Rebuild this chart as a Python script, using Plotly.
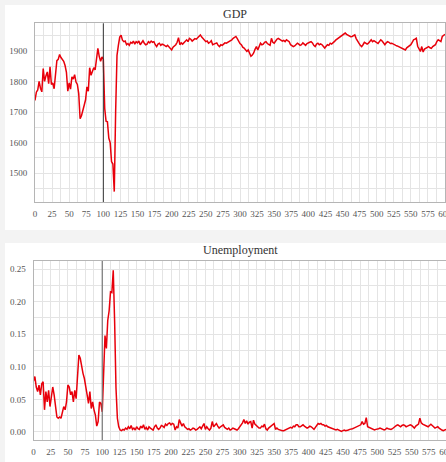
import plotly.graph_objects as go

# time steps (every 2 periods from 0 to 600)
gdp = [
    1738, 1765, 1772, 1800, 1778, 1766, 1842, 1800, 1818, 1831,   # 0-18
    1793, 1848, 1790, 1795, 1776, 1831, 1868, 1872, 1888, 1878,   # 20-38
    1872, 1866, 1852, 1830, 1768, 1795, 1775, 1815, 1808, 1822,   # 40-58
    1798, 1790, 1760, 1678, 1688, 1710, 1722, 1740, 1782, 1768,   # 60-78
    1845, 1820, 1835, 1845, 1838, 1875, 1908, 1882, 1866, 1880,   # 80-98
    1872, 1712, 1670, 1668, 1615, 1600, 1538, 1530, 1440, 1700,   # 100-118
    1885, 1918, 1945, 1951, 1935, 1930, 1932, 1920, 1924, 1918,   # 120-138
    1928, 1925, 1932, 1922, 1930, 1926, 1932, 1920, 1928, 1933,   # 140-158
    1925, 1920, 1922, 1930, 1926, 1932, 1928, 1930, 1920, 1914,   # 160-178
    1922, 1925, 1918, 1922, 1920, 1916, 1914, 1918, 1912, 1909,   # 180-198
    1903, 1912, 1915, 1920, 1928, 1943, 1920, 1926, 1922, 1928,   # 200-218
    1932, 1936, 1930, 1941, 1938, 1932, 1936, 1940, 1938, 1943,   # 220-238
    1948, 1952, 1945, 1940, 1938, 1930, 1932, 1925, 1928, 1933,   # 240-258
    1920, 1922, 1925, 1926, 1918, 1914, 1920, 1918, 1922, 1926,   # 260-278
    1925, 1928, 1930, 1932, 1936, 1941, 1944, 1947, 1940, 1930,   # 280-298
    1924, 1920, 1912, 1909, 1902, 1898, 1903, 1890, 1882, 1886,   # 300-318
    1893, 1905, 1914, 1903, 1918, 1925, 1920, 1922, 1928, 1930,   # 320-338
    1924, 1920, 1918, 1941, 1928, 1925, 1934, 1938, 1941, 1937,   # 340-358
    1936, 1932, 1934, 1930, 1936, 1934, 1930, 1920, 1918, 1914,   # 360-378
    1916, 1920, 1925, 1922, 1918, 1920, 1926, 1922, 1918, 1924,   # 380-398
    1925, 1928, 1930, 1926, 1918, 1914, 1922, 1925, 1920, 1923,   # 400-418
    1920, 1914, 1909, 1915, 1920, 1918, 1925, 1922, 1928, 1930,   # 420-438
    1935, 1938, 1941, 1945, 1947, 1950, 1955, 1958, 1954, 1952,   # 440-458
    1950, 1946, 1947, 1950, 1952, 1940, 1930, 1925, 1918, 1914,   # 460-478
    1920, 1928, 1925, 1922, 1925, 1932, 1936, 1930, 1933, 1930,   # 480-498
    1926, 1924, 1930, 1936, 1932, 1925, 1920, 1926, 1930, 1928,   # 500-518
    1924, 1925, 1922, 1920, 1918, 1916, 1914, 1912, 1910, 1909,   # 520-538
    1906, 1903, 1910, 1914, 1916, 1920, 1928, 1936, 1938, 1941,   # 540-558
    1915, 1905, 1898, 1914, 1896, 1906, 1909, 1912, 1914, 1910,   # 560-578
    1908, 1914, 1918, 1920, 1930, 1936, 1933, 1930, 1947, 1950,   # 580-598
    1954,                                                           # 600
]

unemployment = [
    0.078, 0.085, 0.069, 0.062, 0.072, 0.057, 0.074, 0.077, 0.034, 0.062,   # 0-18
    0.046, 0.064, 0.039, 0.054, 0.069, 0.057, 0.036, 0.023, 0.021, 0.023,   # 20-38
    0.021, 0.031, 0.039, 0.034, 0.046, 0.072, 0.069, 0.057, 0.062, 0.046,   # 40-58
    0.064, 0.051, 0.079, 0.118, 0.113, 0.100, 0.090, 0.082, 0.072, 0.057,   # 60-78
    0.044, 0.062, 0.036, 0.046, 0.034, 0.026, 0.009, 0.016, 0.046, 0.044,   # 80-98
    0.031, 0.110, 0.148, 0.128, 0.171, 0.186, 0.215, 0.214, 0.248, 0.169,   # 100-118
    0.067, 0.021, 0.008, 0.003, 0.002, 0.004, 0.003, 0.006, 0.004, 0.008,   # 120-138
    0.005, 0.010, 0.004, 0.006, 0.003, 0.008, 0.005, 0.004, 0.009, 0.006,   # 140-158
    0.011, 0.004, 0.007, 0.003, 0.008, 0.006, 0.004, 0.003, 0.008, 0.011,   # 160-178
    0.006, 0.004, 0.006, 0.010, 0.009, 0.007, 0.012, 0.010, 0.013, 0.014,   # 180-198
    0.011, 0.013, 0.012, 0.003, 0.008, 0.006, 0.019, 0.012, 0.009, 0.013,   # 200-218
    0.008, 0.006, 0.004, 0.005, 0.003, 0.004, 0.006, 0.005, 0.003, 0.004,   # 220-238
    0.006, 0.008, 0.005, 0.010, 0.013, 0.004, 0.008, 0.005, 0.003, 0.006,   # 240-258
    0.016, 0.008, 0.010, 0.013, 0.009, 0.006, 0.008, 0.010, 0.011, 0.007,   # 260-278
    0.005, 0.004, 0.006, 0.003, 0.004, 0.006, 0.005, 0.004, 0.003, 0.005,   # 280-298
    0.008, 0.010, 0.014, 0.019, 0.013, 0.017, 0.012, 0.015, 0.016, 0.006,   # 300-318
    0.018, 0.012, 0.010, 0.008, 0.006, 0.006, 0.009, 0.008, 0.012, 0.005,   # 320-338
    0.003, 0.006, 0.008, 0.010, 0.012, 0.013, 0.004, 0.006, 0.004, 0.003,   # 340-358
    0.003, 0.002, 0.002, 0.003, 0.003, 0.004, 0.006, 0.007, 0.006, 0.009,   # 360-378
    0.008, 0.011, 0.011, 0.008, 0.008, 0.010, 0.011, 0.009, 0.007, 0.006,   # 380-398
    0.007, 0.009, 0.008, 0.006, 0.004, 0.007, 0.011, 0.013, 0.012, 0.013,   # 400-418
    0.011, 0.011, 0.009, 0.010, 0.008, 0.007, 0.006, 0.005, 0.004, 0.004,   # 420-438
    0.003, 0.004, 0.003, 0.002, 0.001, 0.002, 0.003, 0.002, 0.002, 0.003,   # 440-458
    0.004, 0.004, 0.005, 0.006, 0.007, 0.008, 0.008, 0.010, 0.011, 0.016,   # 460-478
    0.012, 0.013, 0.022, 0.008, 0.007, 0.006, 0.005, 0.004, 0.003, 0.004,   # 480-498
    0.004, 0.005, 0.006, 0.005, 0.004, 0.003, 0.004, 0.006, 0.005, 0.004,   # 500-518
    0.004, 0.005, 0.007, 0.008, 0.010, 0.011, 0.009, 0.008, 0.010, 0.011,   # 520-538
    0.010, 0.008, 0.009, 0.010, 0.011, 0.010, 0.008, 0.006, 0.009, 0.011,   # 540-558
    0.012, 0.021, 0.014, 0.012, 0.011, 0.010, 0.009, 0.008, 0.010, 0.012,   # 560-578
    0.010, 0.007, 0.006, 0.007, 0.008, 0.006, 0.004, 0.003, 0.002, 0.003,   # 580-598
    0.004,                                                                   # 600
]

steps_gdp = list(range(0, 2 * len(gdp), 2))
steps_unemp = list(range(0, 2 * len(unemployment), 2))
x_ticks = list(range(0, 601, 25))
event_time = 100

W, H = 446, 462
LINE = "#e8000b"
GRID = "#e4e4e4"
FONT = "Liberation Serif"
TICKFONT = dict(family=FONT, size=9, color="#555555")

fig = go.Figure()
fig.add_trace(go.Scatter(x=steps_gdp, y=gdp, mode="lines",
                         line=dict(color=LINE, width=1.5), xaxis="x", yaxis="y",
                         showlegend=False, hoverinfo="skip"))
fig.add_trace(go.Scatter(x=steps_unemp, y=unemployment, mode="lines",
                         line=dict(color=LINE, width=1.5), xaxis="x2", yaxis="y2",
                         showlegend=False, hoverinfo="skip"))

def px_x(p):
    return p / W

def px_y(p):
    return (H - p) / H

xcommon = dict(range=[0, 600], tickmode="array", tickvals=x_ticks,
               ticktext=[str(v) for v in x_ticks], showgrid=True, gridcolor=GRID,
               gridwidth=1, zeroline=False, showline=True, linecolor="#b5b5b5",
               linewidth=1, mirror=True, ticks="", tickfont=TICKFONT,
               ticklabelstandoff=3, ticklabeloverflow="allow", automargin=False,
               fixedrange=True,
               minor=dict(dtick=12.5, tick0=0, showgrid=True, gridcolor=GRID))
ycommon = dict(showgrid=True, gridcolor=GRID, gridwidth=1, zeroline=False,
               showline=True, linecolor="#b5b5b5", linewidth=1, mirror=True,
               ticks="", tickfont=TICKFONT, ticklabelstandoff=5,
               ticklabeloverflow="allow", automargin=False, fixedrange=True)

fig.update_layout(
    width=W, height=H,
    margin=dict(l=0, r=0, t=0, b=0),
    paper_bgcolor="#f3f3f3",
    plot_bgcolor="rgba(0,0,0,0)",
    xaxis=dict(xcommon, domain=[px_x(35), px_x(445)], anchor="y"),
    yaxis=dict(ycommon, domain=[px_y(202), px_y(23.3)], anchor="x",
               range=[1406, 1990], dtick=100, tick0=0,
               minor=dict(dtick=50, tick0=0, showgrid=True, gridcolor=GRID)),
    xaxis2=dict(xcommon, domain=[px_x(33.5), 1.0], anchor="y2"),
    yaxis2=dict(ycommon, domain=[px_y(440), px_y(261)], anchor="x2",
                range=[-0.0123, 0.2623], dtick=0.05, tick0=0, tickformat=".2f",
                minor=dict(dtick=0.025, tick0=0, showgrid=True, gridcolor=GRID)),
    shapes=[
        dict(type="rect", xref="paper", yref="paper", x0=px_x(5), x1=1.0,
             y0=px_y(230), y1=px_y(5), fillcolor="white", line=dict(width=0),
             layer="below"),
        dict(type="rect", xref="paper", yref="paper", x0=px_x(5), x1=1.0,
             y0=0, y1=px_y(243), fillcolor="white", line=dict(width=0),
             layer="below"),
        dict(type="line", xref="x", yref="y domain", x0=event_time, x1=event_time,
             y0=0, y1=1, line=dict(color="#333333", width=1)),
        dict(type="line", xref="x2", yref="y2 domain", x0=event_time, x1=event_time,
             y0=0, y1=1, line=dict(color="#777777", width=1.2)),
    ],
    annotations=[
        dict(text="GDP", xref="paper", yref="paper", x=px_x(235), y=px_y(14),
             xanchor="center", yanchor="middle", showarrow=False,
             font=dict(family=FONT, size=12, color="#333333")),
        dict(text="Unemployment", xref="paper", yref="paper", x=px_x(240),
             y=px_y(250), xanchor="center", yanchor="middle", showarrow=False,
             font=dict(family=FONT, size=12, color="#333333")),
    ],
)

fig.write_html("out.html", config={"displayModeBar": False})
